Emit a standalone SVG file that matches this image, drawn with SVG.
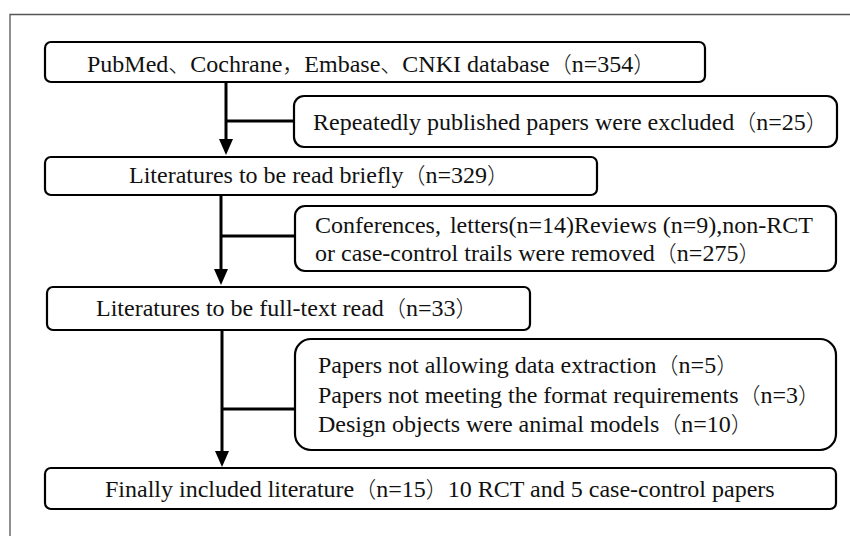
<svg xmlns="http://www.w3.org/2000/svg" width="850" height="536" viewBox="0 0 850 536">
  <style>
    .box { fill: #fff; stroke: #000; stroke-width: 2.2; }
    .lbl { font-family: "Liberation Serif", "Noto Sans CJK SC", serif; font-size: 24px; fill: #111; }
    .cj { font-family: "Noto Sans CJK SC", sans-serif; font-weight: 300; font-size: 22px; }
    .wire { stroke: #000; stroke-width: 3; fill: none; }
    .frame { stroke: #555; stroke-width: 1.3; fill: none; }
  </style>
  <defs>
    <marker id="head" viewBox="0 0 16 14" refX="8" refY="7" markerWidth="16" markerHeight="14" markerUnits="userSpaceOnUse" orient="auto">
      <path d="M0,0 L16,7 L0,14 Z" fill="#000"/>
    </marker>
  </defs>
  <rect width="850" height="536" fill="#fff"/>
  <path class="frame" d="M10,536 V14.5 H850"/>

  <g id="connectors">
    <path class="wire" d="M226,82 V147" marker-end="url(#head)"/>
    <path class="wire" d="M226,121 H294"/>
    <path class="wire" d="M221,195 V277" marker-end="url(#head)"/>
    <path class="wire" d="M221,236 H295"/>
    <path class="wire" d="M222,330 V459" marker-end="url(#head)"/>
    <path class="wire" d="M222,409 H295"/>
  </g>

  <g id="source">
    <rect class="box" x="45" y="42" width="660" height="40" rx="6"/>
    <text class="lbl" x="87" y="72">PubMed<tspan class="cj">、</tspan>Cochrane<tspan class="cj">，</tspan>Embase<tspan class="cj">、</tspan>CNKI database<tspan class="cj">（</tspan>n=354<tspan class="cj">）</tspan></text>
  </g>
  <g id="duplicates">
    <rect class="box" x="294" y="96" width="543" height="51" rx="10"/>
    <text class="lbl" x="313" y="130">Repeatedly published papers were excluded<tspan class="cj">（</tspan>n=25<tspan class="cj">）</tspan></text>
  </g>
  <g id="brief">
    <rect class="box" x="45" y="157" width="552" height="38" rx="6"/>
    <text class="lbl" x="129" y="183">Literatures to be read briefly<tspan class="cj">（</tspan>n=329<tspan class="cj">）</tspan></text>
  </g>
  <g id="removed">
    <rect class="box" x="295" y="206" width="541" height="65" rx="10"/>
    <text class="lbl" x="315" y="233">Conferences,<tspan dx="9">letters(n=14)Reviews (n=9),non-RCT</tspan></text>
    <text class="lbl" x="315" y="261">or case-control trails were removed<tspan class="cj">（</tspan>n=275<tspan class="cj">）</tspan></text>
  </g>
  <g id="fulltext">
    <rect class="box" x="47" y="287" width="483" height="43" rx="6"/>
    <text class="lbl" x="96" y="316">Literatures to be full-text read<tspan class="cj">（</tspan>n=33<tspan class="cj">）</tspan></text>
  </g>
  <g id="excluded">
    <rect class="box" x="295" y="339" width="541" height="111" rx="16"/>
    <text class="lbl" x="318" y="373">Papers not allowing data extraction<tspan class="cj">（</tspan>n=5<tspan class="cj">）</tspan></text>
    <text class="lbl" x="318" y="403">Papers not meeting the format requirements<tspan class="cj">（</tspan>n=3<tspan class="cj">）</tspan></text>
    <text class="lbl" x="318" y="432">Design objects were animal models<tspan class="cj">（</tspan>n=10<tspan class="cj">）</tspan></text>
  </g>
  <g id="included">
    <rect class="box" x="45" y="468" width="791" height="41" rx="6"/>
    <text class="lbl" x="105" y="497">Finally included literature<tspan class="cj">（</tspan>n=15<tspan class="cj">）</tspan>10 RCT and 5 case-control papers</text>
  </g>
</svg>
